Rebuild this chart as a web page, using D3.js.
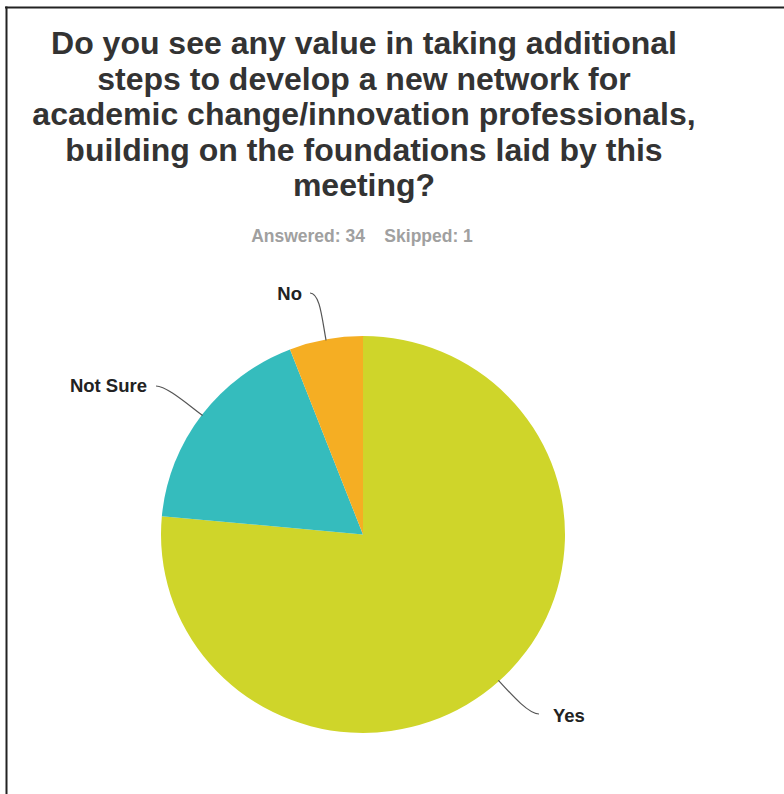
<!DOCTYPE html>
<html>
<head>
<meta charset="utf-8">
<script src="https://cdn.jsdelivr.net/npm/d3@7"></script>
<style>
  html, body { margin: 0; padding: 0; background: #fff; }
  svg { display: block; }
</style>
</head>
<body>
<svg id="chart" width="784" height="794"></svg>
<script>
// Survey responses
const categories = ["Yes", "Not Sure", "No"];
const counts = [26, 6, 2];
const colors = ["#cfd52a", "#35bcbd", "#f5ae23"];
const titleLines = [
  "Do you see any value in taking additional",
  "steps to develop a new network for",
  "academic change/innovation professionals,",
  "building on the foundations laid by this",
  "meeting?"
];
const answered = 34, skipped = 1;

const FONT = "Liberation Sans, Arial, sans-serif";
const svg = d3.select("#chart");

// frame
svg.append("line").attr("x1", 5).attr("x2", 784).attr("y1", 7.5).attr("y2", 7.5)
  .attr("stroke", "#222").attr("stroke-width", 2);
svg.append("line").attr("x1", 6.5).attr("x2", 6.5).attr("y1", 6.5).attr("y2", 794)
  .attr("stroke", "#222").attr("stroke-width", 2);

// title
svg.append("text")
  .attr("x", 364).attr("y", 54)
  .attr("text-anchor", "middle")
  .attr("font-family", FONT)
  .attr("font-weight", "bold")
  .attr("font-size", 32)
  .attr("fill", "#333")
  .selectAll("tspan").data(titleLines).join("tspan")
  .attr("x", 364).attr("dy", (d, i) => i === 0 ? 0 : 35.5)
  .text(d => d);

svg.append("text")
  .attr("x", 362).attr("y", 242)
  .attr("text-anchor", "middle")
  .attr("font-family", FONT)
  .attr("font-weight", "bold")
  .attr("font-size", 17.5)
  .attr("fill", "#a0a0a0")
  .attr("xml:space", "preserve")
  .text(`Answered: ${answered}    Skipped: ${skipped}`);

// pie
const cx = 363, cy = 534.5, r = 200;
const sx = 1.01, sy = 0.992;
const data = categories.map((c, i) => ({ cat: c, value: counts[i], color: colors[i] }));
const pie = d3.pie().value(d => d.value).sort(null);
const arcs = pie(data);
const arc = d3.arc().innerRadius(0).outerRadius(r);

const g = svg.append("g").attr("transform", `translate(${cx},${cy}) scale(${sx},${sy})`);
g.selectAll("path.slice").data(arcs).join("path")
  .attr("class", "slice")
  .attr("d", arc)
  .attr("fill", d => d.data.color);

// leader lines and labels
const labelInfo = {
  "Yes":      { tx: 553, ty: 722, anchor: "start", end: [539, 714] },
  "Not Sure": { tx: 147, ty: 392, anchor: "end",   end: [156, 386] },
  "No":       { tx: 302, ty: 300, anchor: "end",   end: [310, 293] }
};

arcs.forEach(a => {
  const info = labelInfo[a.data.cat];
  const mid = (a.startAngle + a.endAngle) / 2;
  const dx = Math.sin(mid), dy = -Math.cos(mid);
  const px = cx + sx * (r - 1) * dx, py = cy + sy * (r - 1) * dy;
  const [ex, ey] = info.end;
  const dir = info.anchor === "start" ? -1 : 1;
  const p = d3.path();
  p.moveTo(px, py);
  p.bezierCurveTo(px + 22 * dx, py + 22 * dy, ex + dir * 10, ey, ex, ey);
  svg.append("path").attr("d", p.toString())
    .attr("fill", "none").attr("stroke", "#555").attr("stroke-width", 1.2);

  svg.append("text")
    .attr("x", info.tx).attr("y", info.ty)
    .attr("text-anchor", info.anchor)
    .attr("font-family", FONT)
    .attr("font-weight", "bold")
    .attr("font-size", 18.5)
    .attr("fill", "#222")
    .text(a.data.cat);
});
</script>
</body>
</html>
